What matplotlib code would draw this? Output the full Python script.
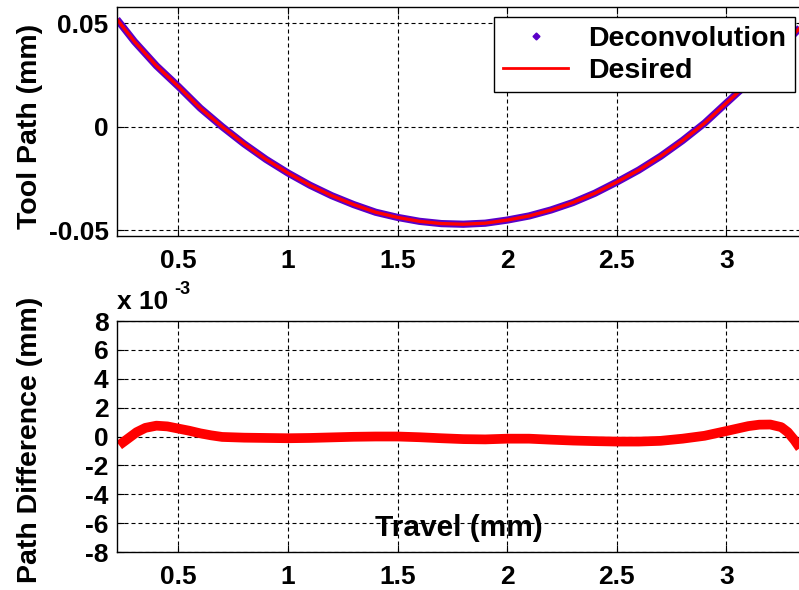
import matplotlib
matplotlib.use("Agg")
import matplotlib.pyplot as plt
from matplotlib.lines import Line2D

# tool path (mm)
travel = [0.22, 0.3, 0.4, 0.5, 0.6, 0.7, 0.8, 0.9, 1.0, 1.1, 1.2, 1.3, 1.4,
          1.5, 1.6, 1.7, 1.8, 1.9, 2.0, 2.1, 2.2, 2.3, 2.4, 2.5, 2.6, 2.7,
          2.8, 2.9, 3.0, 3.1, 3.2, 3.3, 3.36]
desired = [0.0520, 0.0412, 0.0295, 0.0195, 0.0090, 0.0000, -0.0083, -0.0158,
           -0.0224, -0.0283, -0.0334, -0.0377, -0.0414, -0.0439, -0.0458,
           -0.0469, -0.0472, -0.0467, -0.0452, -0.0432, -0.0403, -0.0367,
           -0.0322, -0.0268, -0.0210, -0.0143, -0.0067, 0.0017, 0.0115,
           0.0212, 0.0318, 0.0440, 0.0505]
deconvolution = [0.0520, 0.0412, 0.0295, 0.0195, 0.0090, 0.0000, -0.0083,
                 -0.0158, -0.0224, -0.0283, -0.0334, -0.0377, -0.0414,
                 -0.0439, -0.0458, -0.0469, -0.0472, -0.0467, -0.0452,
                 -0.0432, -0.0403, -0.0367, -0.0322, -0.0268, -0.0210,
                 -0.0143, -0.0067, 0.0017, 0.0115, 0.0212, 0.0318, 0.0440,
                 0.0505]

# path difference, lower panel (x 1e-3 mm)
travel_diff = [0.23, 0.27, 0.31, 0.35, 0.40, 0.45, 0.50, 0.55, 0.60, 0.65,
               0.70, 0.80, 0.90, 1.0, 1.1, 1.2, 1.3, 1.4, 1.5, 1.6, 1.7,
               1.8, 1.9, 2.0, 2.1, 2.2, 2.3, 2.4, 2.5, 2.6, 2.7, 2.8, 2.9,
               3.0, 3.05, 3.1, 3.15, 3.2, 3.25, 3.28, 3.31, 3.34]
path_diff = [-0.6, -0.15, 0.3, 0.6, 0.75, 0.7, 0.55, 0.4, 0.22, 0.08, -0.03,
             -0.08, -0.1, -0.12, -0.1, -0.06, -0.02, 0.0, 0.0, -0.05, -0.12,
             -0.18, -0.2, -0.15, -0.15, -0.22, -0.28, -0.32, -0.35, -0.35,
             -0.3, -0.15, 0.05, 0.38, 0.55, 0.72, 0.82, 0.83, 0.65, 0.3,
             -0.25, -0.9]

xticks = [0.5, 1, 1.5, 2, 2.5, 3]
xticklabels = ["0.5", "1", "1.5", "2", "2.5", "3"]

PURPLE = "#5a00c8"
FS = 19      # tick labels
FS_LAB = 20.5  # axis labels and legend

plt.rcParams["font.family"] = ["Liberation Sans", "DejaVu Sans"]
plt.rcParams["font.weight"] = "bold"

fig = plt.figure(figsize=(7.99, 5.90), dpi=100)
ax1 = fig.add_axes([0.1464, 0.600, 0.861, 0.388])
ax2 = fig.add_axes([0.1464, 0.0644, 0.861, 0.3915])


def style(ax):
    ax.grid(True, color="black", linestyle=(0, (3.6, 2.7)), linewidth=0.8)
    ax.set_axisbelow(True)
    ax.set_xticks(xticks)
    ax.set_xticklabels(xticklabels)
    ax.set_xlim(0.2202, 3.358)
    ax.tick_params(direction="in", length=5, width=0.8, top=True, right=True,
                   labelsize=FS)
    ax.tick_params(axis="x", pad=9)
    ax.tick_params(axis="y", pad=6)
    for sp in ax.spines.values():
        sp.set_linewidth(1.0)
    for lab in ax.get_xticklabels() + ax.get_yticklabels():
        lab.set_fontweight("bold")


# top panel
ax1.plot(travel, deconvolution, color=PURPLE, lw=5.2, solid_capstyle="butt")
ax1.plot(travel, desired, color="red", lw=2.4)
style(ax1)
ax1.set_ylim(-0.0529, 0.0579)
ax1.set_yticks([-0.05, 0, 0.05])
ax1.set_yticklabels(["-0.05", "0", "0.05"])
ax1.set_ylabel("Tool Path (mm)", fontsize=FS_LAB, fontweight="bold")
ax1.yaxis.set_label_coords(-0.108, 0.48)

handles = [Line2D([], [], color=PURPLE, marker="D", markersize=3.5, ls="none"),
           Line2D([], [], color="red", lw=2)]
leg = ax1.legend(handles, ["Deconvolution", "Desired"], loc="upper right",
                 prop={"weight": "bold", "size": FS_LAB},
                 fancybox=False, framealpha=1, edgecolor="black",
                 borderaxespad=0.35, handlelength=2.3, handletextpad=0.7,
                 labelspacing=0.22, borderpad=0.3)
leg.get_frame().set_linewidth(1.0)

# bottom panel
ax2.plot(travel_diff, path_diff, color="red", lw=7, solid_capstyle="butt")
style(ax2)
ax2.set_ylim(-8, 8)
ax2.set_yticks(range(-8, 9, 2))
ax2.set_yticklabels([str(v) for v in range(-8, 9, 2)])
ax2.set_ylabel("Path Difference (mm)", fontsize=FS_LAB, fontweight="bold")
ax2.yaxis.set_label_coords(-0.108, 0.485)
ax2.text(0.497, 0.104, "Travel (mm)", transform=ax2.transAxes, ha="center",
         va="center", fontsize=21.5, fontweight="bold")
ax2.text(0.0, 1.03, "x 10", transform=ax2.transAxes, ha="left",
         va="bottom", fontsize=FS, fontweight="bold")
ax2.text(0.083, 1.10, "-3", transform=ax2.transAxes, ha="left",
         va="bottom", fontsize=13, fontweight="bold")

fig.savefig("out.png", dpi=100)
